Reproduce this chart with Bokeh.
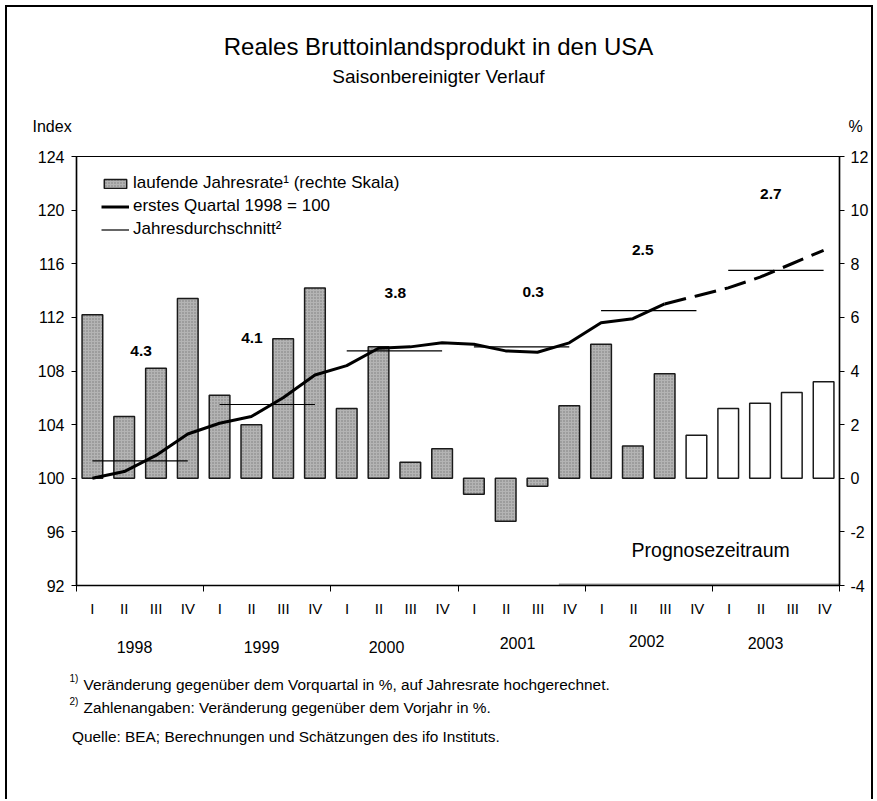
from bokeh.plotting import figure
from bokeh.layouts import column
from bokeh.models import (Range1d, LinearAxis, FixedTicker, Legend, LegendItem,
                          ColumnDataSource)
from bokeh.embed import file_html
from bokeh.resources import INLINE
from bokeh.core.properties import value

# ---------------- data ----------------
years = ["1998", "1999", "2000", "2001", "2002", "2003"]
quarter_names = ["I", "II", "III", "IV"]
# laufende Jahresrate (rechte Skala, %)
growth_rate = [6.1, 2.3, 4.1, 6.7, 3.1, 2.0, 5.2, 7.1, 2.6, 4.9, 0.6, 1.1,
               -0.6, -1.6, -0.3, 2.7, 5.0, 1.2, 3.9, 1.6, 2.6, 2.8, 3.2, 3.6]
# Index, erstes Quartal 1998 = 100
gdp_index = [100.0, 100.5, 101.7, 103.3, 104.1, 104.6, 106.0, 107.7,
             108.4, 109.7, 109.8, 110.1, 110.0, 109.5, 109.4, 110.1,
             111.6, 111.9, 113.0, 113.6, 114.2, 115.0, 116.0, 117.0]
# Jahresdurchschnitt (Index)
annual_avg = [101.3, 105.5, 109.5, 109.8, 112.5, 115.5]
# Veraenderung gegenueber dem Vorjahr in %
annual_change = ["4.3", "4.1", "3.8", "0.3", "2.5", "2.7"]
n_actual = 19          # 1998 I ... 2002 III are actual values, rest forecast

FONT = "Liberation Sans"

# ---------------- page geometry (pixels) ----------------
OX, OY = 7, 7                    # content origin (inside the frame border)
WC = 864                         # content width
FL, FR, FT, FB = 76, 840, 156, 585   # plot frame of the chart on the page
TOP_END, MID_END, BOT_END = 140, 600, 799


def px_x(px):
    return (px - FL) * 24 / (FR - FL)


def px_y(py):
    return 92 + (FB - py) * 32 / (FB - FT)


def text_panel(y0, y1):
    f = figure(width=WC, height=y1 - y0, output_backend="svg", toolbar_location=None,
               x_range=Range1d(px_x(OX), px_x(OX + WC)), y_range=Range1d(y1, y0),
               x_axis_type=None, y_axis_type=None, min_border=0,
               min_border_left=0, min_border_right=0, min_border_top=0,
               min_border_bottom=0, frame_align=False,
               outline_line_color=None, background_fill_color="white",
               border_fill_color="white")
    return f


def txt(f, x, y, text, size, align="center", style="normal"):
    f.text(x=[x], y=[y], text=[text], text_font=value(FONT), text_font_size=size,
           text_align=align, text_baseline="middle", text_color="black",
           text_font_style=style)


# ---------------- top panel: titles ----------------
top = text_panel(OY, TOP_END)
txt(top, px_x(438), 46, "Reales Bruttoinlandsprodukt in den USA", "24px")
txt(top, px_x(438), 76, "Saisonbereinigter Verlauf", "19px")
txt(top, px_x(32), 126, "Index", "16px", align="left")
txt(top, px_x(855), 126, "%", "16px")

# ---------------- main chart ----------------
p = figure(width=WC, height=MID_END - TOP_END, x_range=Range1d(0, 24),
           y_range=Range1d(92, 124), output_backend="svg", toolbar_location=None,
           min_border_left=FL - OX, min_border_right=OX + WC - FR,
           min_border_top=FT - TOP_END, min_border_bottom=MID_END - FB,
           frame_align=False,
           background_fill_color="white", border_fill_color="white",
           outline_line_color="black", outline_line_width=1.2)
p.grid.visible = False
p.extra_y_ranges = {"pct": Range1d(-4, 12)}

xa = p.xaxis[0]
xa.ticker = FixedTicker(ticks=list(range(0, 25, 4)))
xa.major_label_overrides = {t: "" for t in range(0, 25, 4)}
xa.major_label_text_font_size = "1px"
xa.major_label_standoff = 0
xa.major_tick_out = 6
xa.major_tick_in = 0
xa.minor_tick_line_color = None
xa.axis_line_width = 1.5
xa.axis_line_color = "black"
xa.major_tick_line_color = "black"

ya = p.yaxis[0]
ya.ticker = FixedTicker(ticks=list(range(92, 125, 4)))
ya.major_tick_out = 5
ya.major_tick_in = 0
ya.minor_tick_line_color = None
ya.axis_line_width = 1.5
ya.axis_line_color = "black"
ya.major_tick_line_color = "black"
ya.major_label_text_font = FONT
ya.major_label_text_font_size = "16px"
ya.major_label_text_color = "black"
ya.major_label_standoff = 7

pct_ticks = list(range(-4, 13, 2))
ra = LinearAxis(y_range_name="pct", ticker=FixedTicker(ticks=pct_ticks))
ra.major_label_overrides = {t: str(t) for t in pct_ticks}
ra.major_tick_out = 5
ra.major_tick_in = 0
ra.minor_tick_line_color = None
ra.axis_line_width = 1.5
ra.axis_line_color = "black"
ra.major_tick_line_color = "black"
ra.major_label_text_font = FONT
ra.major_label_text_font_size = "16px"
ra.major_label_text_color = "black"
ra.major_label_standoff = 6
p.add_layout(ra, "right")

# bars
xq = [i + 0.5 for i in range(len(growth_rate))]
bar_src = ColumnDataSource(dict(
    x=xq, top=growth_rate,
    fill=["#b4b4b4" if i < n_actual else "white" for i in range(len(growth_rate))],
    hatch=["dot" if i < n_actual else " " for i in range(len(growth_rate))],
))
bars = p.vbar(x="x", top="top", bottom=0, width=0.65, source=bar_src, y_range_name="pct",
              fill_color="fill", line_color="#1a1a1a", line_width=1.5,
              hatch_pattern="hatch", hatch_color="#7a7a7a", hatch_scale=3, hatch_weight=0.8)

# forecast marker on the bottom axis
p.segment(x0=[px_x(559)], x1=[24], y0=[92], y1=[92], line_color="#a0a0a0", line_width=4)

# annual averages
avg = p.segment(x0=[4 * i + 0.5 for i in range(len(annual_avg))],
                x1=[4 * i + 3.5 for i in range(len(annual_avg))],
                y0=annual_avg, y1=annual_avg, line_color="black", line_width=1.2)

# index line: actual solid, forecast dashed
solid = p.line(xq[:n_actual], gdp_index[:n_actual], line_color="black", line_width=3,
               line_join="round")
p.line(xq[n_actual - 1:], gdp_index[n_actual - 1:], line_color="black", line_width=3,
       line_dash="22 9")

# annual change labels
chg_x = [px_x(v) for v in (140.7, 251.7, 395.3, 533.3, 643.0, 771.3)]
chg_y = [px_y(v) for v in (350.0, 337.7, 292.7, 291.7, 249.3, 193.3)]
p.text(x=chg_x, y=chg_y, text=annual_change, text_font=value(FONT),
       text_font_size="15.5px", text_font_style="bold", text_align="center",
       text_baseline="middle", text_color="black")

txt(p, px_x(711), px_y(549), "Prognosezeitraum", "19.5px")

legend = Legend(items=[
    LegendItem(label="laufende Jahresrate\u00b9 (rechte Skala)", renderers=[bars], index=0),
    LegendItem(label="erstes Quartal 1998 = 100", renderers=[solid]),
    LegendItem(label="Jahresdurchschnitt\u00b2", renderers=[avg]),
], location=(25, 346), orientation="vertical", background_fill_alpha=0,
    border_line_color=None, padding=0, margin=0, spacing=3, glyph_width=28,
    glyph_height=11, label_height=20, label_standoff=4, label_text_font=FONT,
    label_text_font_size="17px", label_text_color="black")
p.add_layout(legend)

# ---------------- bottom panel: period labels and notes ----------------
bot = text_panel(MID_END, BOT_END)
bot.text(x=xq, y=[608] * len(xq), text=quarter_names * len(years), text_font=value(FONT),
         text_font_size="15px", text_align="center", text_baseline="middle",
         text_color="black")
yr_x = [px_x(v) for v in (134, 261, 386, 517, 646, 765)]
yr_y = [646, 646, 646, 642, 640, 642]
bot.text(x=yr_x, y=yr_y, text=years, text_font=value(FONT), text_font_size="16px",
         text_align="center", text_baseline="middle", text_color="black")

txt(bot, px_x(69), 678, "1)", "10px", align="left")
txt(bot, px_x(83), 684,
    "Veränderung gegenüber dem Vorquartal in %, auf Jahresrate hochgerechnet.",
    "15.4px", align="left")
txt(bot, px_x(69), 701, "2)", "10px", align="left")
txt(bot, px_x(83), 707, "Zahlenangaben: Veränderung gegenüber dem Vorjahr in %.",
    "15.4px", align="left")
txt(bot, px_x(71.5), 736, "Quelle: BEA; Berechnungen und Schätzungen des ifo Instituts.",
    "15.4px", align="left")

page = column(top, p, bot, spacing=0,
              styles={"margin-left": "5px", "margin-top": "5px",
                      "border-left": "2px solid black", "border-top": "2px solid black",
                      "border-right": "2px solid black"})

open("out.html", "w").write(file_html(page, INLINE))
